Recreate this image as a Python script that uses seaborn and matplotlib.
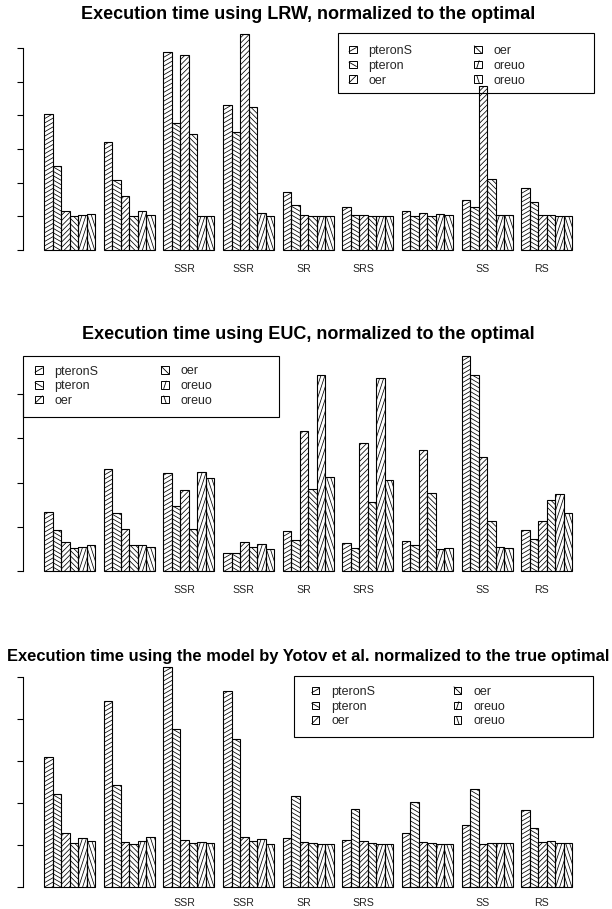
import numpy as np
import pandas as pd
import matplotlib
matplotlib.use("Agg")
import matplotlib.pyplot as plt
import seaborn as sns
from matplotlib.patches import Rectangle
from matplotlib.lines import Line2D
from matplotlib.collections import LineCollection
from matplotlib.legend_handler import HandlerBase

# ---------------- data ----------------
groups = ["g1", "g2", "g3", "g4", "g5", "g6", "g7", "g8", "g9"]
group_labels = ["", "", "SSR", "SSR", "SR", "SRS", "", "SS", "RS"]
series_keys = ["s1", "s2", "s3", "s4", "s5", "s6"]
series_labels = ["pteronS", "pteron", "oer", "oer", "oreuo", "oreuo"]

# Panel 1: LRW
lrw_s1 = [4.05, 3.22, 5.88, 4.30, 1.73, 1.27, 1.15, 1.49, 1.85]
lrw_s2 = [2.49, 2.07, 3.78, 3.51, 1.33, 1.04, 1.01, 1.29, 1.43]
lrw_s3 = [1.15, 1.61, 5.78, 6.41, 1.05, 1.04, 1.10, 4.87, 1.03]
lrw_s4 = [1.00, 1.02, 3.44, 4.24, 1.00, 1.00, 1.00, 2.12, 1.03]
lrw_s5 = [1.04, 1.16, 1.02, 1.09, 1.00, 1.01, 1.06, 1.03, 1.00]
lrw_s6 = [1.07, 1.05, 1.02, 1.00, 1.00, 1.00, 1.03, 1.03, 1.00]

# Panel 2: EUC
euc_s1 = [2.67, 4.61, 4.43, 0.81, 1.82, 1.29, 1.35, 9.73, 1.85]
euc_s2 = [1.88, 2.62, 2.96, 0.84, 1.41, 1.07, 1.17, 8.84, 1.44]
euc_s3 = [1.31, 1.89, 3.65, 1.34, 6.31, 5.77, 5.46, 5.16, 2.27]
euc_s4 = [1.04, 1.19, 1.89, 1.10, 3.70, 3.11, 3.55, 2.25, 3.20]
euc_s5 = [1.11, 1.17, 4.49, 1.23, 8.87, 8.70, 1.00, 1.10, 3.47]
euc_s6 = [1.17, 1.08, 4.19, 1.00, 4.24, 4.12, 1.04, 1.04, 2.62]

# Panel 3: model by Yotov et al.
yot_s1 = [3.10, 4.43, 5.24, 4.67, 1.15, 1.11, 1.29, 1.46, 1.82]
yot_s2 = [2.21, 2.41, 3.76, 3.52, 2.17, 1.86, 2.01, 2.32, 1.40]
yot_s3 = [1.27, 1.06, 1.11, 1.18, 1.07, 1.10, 1.06, 1.01, 1.06]
yot_s4 = [1.03, 1.02, 1.03, 1.08, 1.03, 1.05, 1.03, 1.03, 1.08]
yot_s5 = [1.15, 1.08, 1.06, 1.14, 1.01, 1.02, 1.02, 1.03, 1.03]
yot_s6 = [1.10, 1.18, 1.03, 1.02, 1.01, 1.01, 1.02, 1.03, 1.03]

titles = [
    "Execution time using LRW, normalized to the optimal",
    "Execution time using EUC, normalized to the optimal",
    "Execution time using the model by Yotov et al. normalized to the true optimal",
]

# hatch angles (degrees) per series
angles = [30, 150, 45, 135, 72, 108]

# ---------------- style ----------------
sns.set_theme(style="ticks")
plt.rcParams["font.family"] = ["Liberation Sans", "DejaVu Sans"]

W, H = 612, 909
DPI = 100
fig = plt.figure(figsize=(W / DPI, H / DPI), dpi=DPI)
fig.patch.set_facecolor("white")


def fx(px):
    return px / W


def fy(py):
    return 1 - py / H


panels = [
    dict(values=[lrw_s1, lrw_s2, lrw_s3, lrw_s4, lrw_s5, lrw_s6],
         px0=250.0, ppu=33.67, ylim=(-0.257, 6.67), yticks=np.arange(0, 7, 1),
         title_y=19.0, title_size=13.0,
         frame=(337.7, 33.3, 593.7, 93.0), anchor=(349.0, 45.0), col_off=125.0,
         label_pad=3.5),
    dict(values=[euc_s1, euc_s2, euc_s3, euc_s4, euc_s5, euc_s6],
         px0=571.3, ppu=22.17, ylim=(-0.389, 10.12), yticks=np.arange(0, 9, 2),
         title_y=339.3, title_size=13.0,
         frame=(23.3, 356.0, 279.3, 416.7), anchor=(35.0, 365.5), col_off=126.0,
         label_pad=3.5),
    dict(values=[yot_s1, yot_s2, yot_s3, yot_s4, yot_s5, yot_s6],
         px0=886.7, ppu=42.0, ylim=(-0.21, 5.45), yticks=np.arange(0, 6, 1),
         title_y=660.7, title_size=11.9,
         frame=(294.0, 676.0, 593.3, 736.7), anchor=(311.7, 686.0), col_off=142.0,
         label_pad=2.0),
]

X_LEFT, X_RIGHT = 23.0, 593.4
XLIM = ((-1.48 - 4) / 7, (65.48 - 4) / 7)

LEG_FS = 9.0
LEG_PX = LEG_FS * DPI / 72
TICK_FS = 7.6


class AngleHatchHandler(HandlerBase):
    def __init__(self, angle):
        super().__init__()
        self.angle = angle

    def create_artists(self, legend, orig_handle, xdescent, ydescent,
                       width, height, fontsize, trans):
        x0, y0 = -xdescent, -ydescent
        rect = Rectangle((x0, y0), width, height, facecolor="white",
                         edgecolor="black", linewidth=0.7, transform=trans)
        cx, cy = x0 + width / 2, y0 + height / 2
        th = np.deg2rad(self.angle)
        c, s = np.cos(th), np.sin(th)
        tx = width / 2 / abs(c) if abs(c) > 1e-9 else np.inf
        ty = height / 2 / abs(s) if abs(s) > 1e-9 else np.inf
        t = min(tx, ty)
        line = Line2D([cx - t * c, cx + t * c], [cy - t * s, cy + t * s],
                      color="black", linewidth=0.6, transform=trans)
        return [rect, line]


def hatch_patch(ax, patch, angle_deg, anchor_right, spacing_px=3.8, lw=0.55):
    x, y = patch.get_x(), patch.get_y()
    w, h = patch.get_width(), patch.get_height()
    (x0, y0), (x1, y1) = ax.transData.transform([(x, y), (x + w, y + h)])
    xa, xb = sorted([x0, x1])
    ya, yb = sorted([y0, y1])
    th = np.deg2rad(angle_deg)
    d = np.array([np.cos(th), np.sin(th)])
    n = np.array([-np.sin(th), np.cos(th)])
    origin = np.array([xb if anchor_right else xa, ya])
    corners = np.array([[xa, ya], [xb, ya], [xa, yb], [xb, yb]]) - origin
    proj = corners @ n
    kmin = int(np.floor(proj.min() / spacing_px)) - 1
    kmax = int(np.ceil(proj.max() / spacing_px)) + 1
    L = np.hypot(xb - xa, yb - ya) + 5
    inv = ax.transData.inverted()
    segs = []
    for k in range(kmin, kmax + 1):
        p = origin + n * (k * spacing_px)
        segs.append(inv.transform([p - d * L, p + d * L]))
    lc = LineCollection(segs, colors="black", linewidths=lw,
                        transform=ax.transData, zorder=patch.get_zorder() - 0.1)
    ax.add_collection(lc, autolim=False)
    lc.set_clip_path(patch.get_path(), patch.get_transform())


for pi, P in enumerate(panels):
    lo, hi = P["ylim"]
    top_px = P["px0"] - hi * P["ppu"]
    bot_px = P["px0"] - lo * P["ppu"]
    ax = fig.add_axes([fx(X_LEFT), fy(bot_px), (X_RIGHT - X_LEFT) / W,
                       (bot_px - top_px) / H])

    rows = []
    for key, vals in zip(series_keys, P["values"]):
        for g, v in zip(groups, vals):
            rows.append({"group": g, "series": key, "value": v})
    df = pd.DataFrame(rows)

    sns.barplot(data=df, x="group", y="value", hue="series", order=groups,
                hue_order=series_keys, palette={k: "white" for k in series_keys},
                saturation=1, width=6 / 7, gap=0, errorbar=None,
                edgecolor="black", linewidth=0.8, legend=False, ax=ax)

    ax.set_xlim(*XLIM)
    ax.set_ylim(lo, hi)
    ax.set_xlabel("")
    ax.set_ylabel("")
    ax.set_facecolor("none")
    for side in ["top", "right", "bottom"]:
        ax.spines[side].set_visible(False)
    ax.spines["left"].set_bounds(P["yticks"][0], P["yticks"][-1])
    ax.spines["left"].set_linewidth(0.8)
    ax.spines["left"].set_color("black")
    ax.set_yticks(P["yticks"])
    ax.tick_params(axis="y", length=4.3, width=0.8, direction="out",
                   labelleft=False, color="black")
    ax.set_xticks(np.arange(len(groups)) - 0.08, group_labels)
    ax.tick_params(axis="x", length=0, pad=P["label_pad"],
                   labelsize=TICK_FS, labelcolor="#222222")

    for ci, cont in enumerate(ax.containers):
        for patch in cont.patches:
            patch.set_facecolor("none")
            hatch_patch(ax, patch, angles[ci], anchor_right=(ci % 2 == 0))

    fig.text(fx((X_LEFT + X_RIGHT) / 2), fy(P["title_y"]), titles[pi],
             ha="center", va="baseline", fontsize=P["title_size"],
             fontweight="bold", color="black")

    # legend
    proxies = [Rectangle((0, 0), 1, 1) for _ in series_keys]
    hmap = {pr: AngleHatchHandler(a) for pr, a in zip(proxies, angles)}
    handle_px, pad_px = 7.5, 12.0
    col1_w = handle_px + pad_px + 3.502 * LEG_PX
    colspace = (P["col_off"] - col1_w) / LEG_PX
    ax.legend(proxies, series_labels, handler_map=hmap, ncol=2,
              loc="upper left",
              bbox_to_anchor=(fx(P["anchor"][0]), fy(P["anchor"][1])),
              bbox_transform=fig.transFigure, frameon=False, borderpad=0,
              borderaxespad=0, fontsize=LEG_FS,
              handlelength=handle_px / LEG_PX, handleheight=0.9 * handle_px / LEG_PX,
              handletextpad=pad_px / LEG_PX, columnspacing=colspace,
              labelspacing=0.22)
    x0, y0, x1, y1 = P["frame"]
    fig.add_artist(Rectangle((fx(x0), fy(y1)), (x1 - x0) / W, (y1 - y0) / H,
                             transform=fig.transFigure, fill=False,
                             edgecolor="black", linewidth=0.8))

fig.savefig("out.png", dpi=DPI, facecolor="white")
